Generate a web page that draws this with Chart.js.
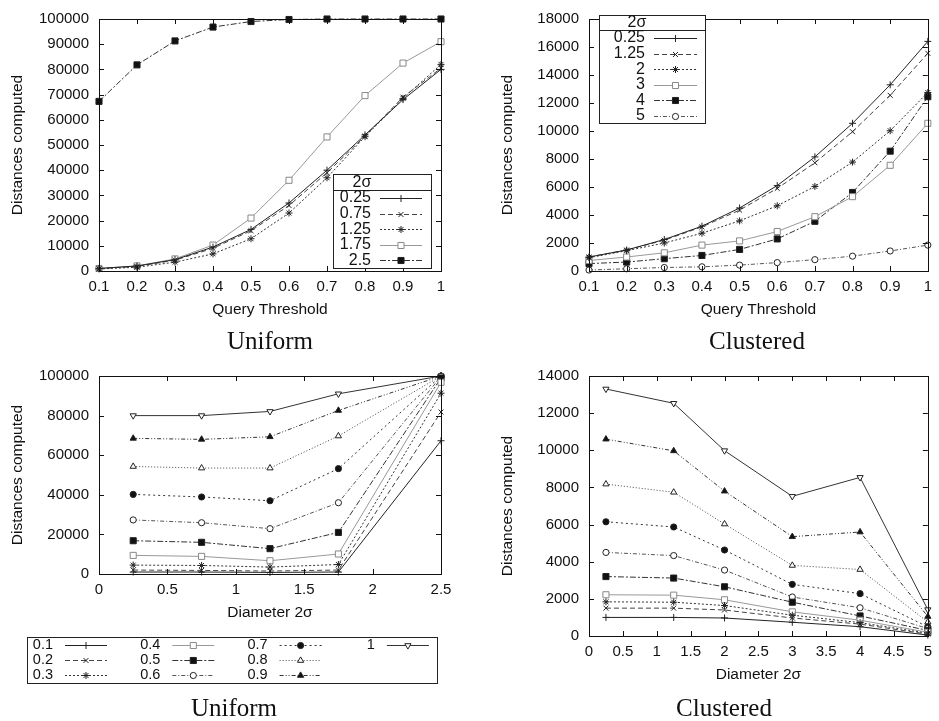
<!DOCTYPE html>
<html>
<head>
<meta charset="utf-8">
<script src="https://cdn.jsdelivr.net/npm/chart.js@4.4.0/dist/chart.umd.min.js"></script>
<style>
  body { margin: 0; background: #fff; }
  #page { position: relative; width: 939px; height: 721px; overflow: hidden; }
  .box { position: absolute; }
  .cap { position: absolute; width: 300px; text-align: center; font: 25px "Liberation Serif", "Times New Roman", serif; line-height: 30px; color: #111; }
</style>
</head>
<body>
<div id="page">
  <div class="box" style="left:0;top:0"><canvas id="uniThr" width="470" height="325"></canvas></div>
  <div class="box" style="left:470px;top:0"><canvas id="cluThr" width="469" height="325"></canvas></div>
  <div class="box" style="left:0;top:345px"><canvas id="uniDia" width="470" height="376"></canvas></div>
  <div class="box" style="left:470px;top:345px"><canvas id="cluDia" width="469" height="376"></canvas></div>
  <div class="cap" style="left:120px;top:326px">Uniform</div>
  <div class="cap" style="left:607px;top:326px">Clustered</div>
  <div class="cap" style="left:84px;top:693px">Uniform</div>
  <div class="cap" style="left:574px;top:693px">Clustered</div>
</div>
<script>
// ---- data ----
const thresholds = [0.1, 0.2, 0.3, 0.4, 0.5, 0.6, 0.7, 0.8, 0.9, 1];

// uniform, by query threshold (one list per diameter 2σ)
const uniDiamLabels = ["0.25", "0.75", "1.25", "1.75", "2.5"];
const uni025 = [1000, 2000, 4500, 9500, 16500, 27000, 40000, 54000, 68000, 80000];
const uni075 = [1000, 1800, 4300, 9000, 16000, 26000, 39000, 53500, 69000, 80500];
const uni125 = [800, 1500, 3500, 6800, 12800, 23000, 37000, 53300, 68500, 82000];
const uni175 = [1000, 2000, 4800, 10300, 21000, 36000, 53200, 69600, 82500, 91000];
const uni250 = [67300, 81800, 91300, 96800, 99000, 99800, 100000, 100000, 100000, 100000];

// clustered, by query threshold
const cluDiamLabels = ["0.25", "1.25", "2", "3", "4", "5"];
const clu025 = [1000, 1500, 2250, 3200, 4500, 6100, 8150, 10550, 13300, 16400];
const clu125 = [1000, 1500, 2200, 3150, 4350, 5900, 7730, 9950, 12550, 15550];
const clu2 = [950, 1450, 2000, 2700, 3580, 4660, 6040, 7780, 10020, 12750];
const clu3 = [750, 1000, 1300, 1850, 2150, 2820, 3880, 5310, 7550, 10550];
const clu4 = [530, 640, 880, 1110, 1540, 2290, 3550, 5610, 8560, 12450];
const clu5 = [70, 160, 250, 300, 420, 600, 810, 1060, 1430, 1850];

// uniform, by diameter (one list per query threshold)
const uniDiams = [0.25, 0.75, 1.25, 1.75, 2.5];
const thrLabels = ["0.1", "0.2", "0.3", "0.4", "0.5", "0.6", "0.7", "0.8", "0.9", "1"];
const ud01 = [1000, 1000, 800, 1000, 67300];
const ud02 = [2000, 1800, 1500, 2000, 81800];
const ud03 = [4500, 4300, 3500, 4800, 91300];
const ud04 = [9400, 8900, 6700, 10100, 96800];
const ud05 = [16800, 16000, 12800, 21000, 99000];
const ud06 = [27300, 25900, 22900, 36000, 99800];
const ud07 = [40200, 38900, 37000, 53200, 100000];
const ud08 = [54300, 53500, 53500, 69700, 100000];
const ud09 = [68500, 68000, 69300, 82600, 100000];
const ud10 = [80000, 80000, 82100, 91000, 100000];

// clustered, by diameter
const cluDiams = [0.25, 1.25, 2, 3, 4, 5];
const cd01 = [1000, 1000, 970, 740, 500, 50];
const cd02 = [1500, 1500, 1400, 970, 640, 100];
const cd03 = [1840, 1820, 1640, 1120, 720, 150];
const cd04 = [2220, 2200, 1950, 1300, 850, 200];
const cd05 = [3200, 3120, 2650, 1820, 1080, 300];
const cd06 = [4500, 4330, 3550, 2100, 1520, 400];
const cd07 = [6150, 5870, 4630, 2780, 2280, 490];
const cd08 = [8180, 7740, 6030, 3800, 3580, 750];
const cd09 = [10600, 9970, 7800, 5350, 5600, 1050];
const cd10 = [13300, 12530, 9980, 7520, 8540, 1420];

// ---- gnuplot-like line types ----
const lineTypes = [
  { pointStyle: "cross", radius: 3.5, dash: [], color: "#222", fill: "#222" },
  { pointStyle: "crossRot", radius: 3.5, dash: [5, 3], color: "#444", fill: "#444" },
  { pointStyle: "star", radius: 3.5, dash: [2, 2], color: "#333", fill: "#333" },
  { pointStyle: "rect", radius: 4.3, dash: [], color: "#999", fill: "#fff" },
  { pointStyle: "rect", radius: 4.3, dash: [6, 2, 2, 2], color: "#333", fill: "#111" },
  { pointStyle: "circle", radius: 3.1, dash: [4, 2, 1, 2], color: "#555", fill: "#fff" },
  { pointStyle: "circle", radius: 3.1, dash: [2, 3], color: "#333", fill: "#111" },
  { pointStyle: "triangle", radius: 3.6, dash: [1, 2], color: "#444", fill: "#fff" },
  { pointStyle: "triangle", radius: 3.6, dash: [4, 2, 1, 2, 1, 2], color: "#333", fill: "#111" },
  { pointStyle: "triangle", radius: 3.6, rotation: 180, dash: [], color: "#333", fill: "#fff" },
];

const FONT = "'Liberation Sans', Arial, sans-serif";
Chart.defaults.font.family = FONT;
Chart.defaults.color = "#111";

function series(label, xs, ys, lt) {
  return {
    label: label,
    data: xs.map((x, i) => ({ x: x, y: ys[i] })),
    borderColor: lt.color,
    borderWidth: 1,
    borderDash: lt.dash,
    pointStyle: lt.pointStyle,
    pointRadius: lt.radius,
    pointRotation: lt.rotation || 0,
    pointBackgroundColor: lt.fill,
    pointBorderColor: lt.color === "#999" ? "#888" : "#222",
    pointBorderWidth: 1,
    tension: 0,
    clip: false,
  };
}

// frame with inward mirrored tics
const frameTics = {
  id: "frameTics",
  afterDatasetsDraw(chart) {
    const { ctx, chartArea: a, scales } = chart;
    const L = 5;
    ctx.save();
    ctx.strokeStyle = "#111";
    ctx.lineWidth = 1;
    ctx.setLineDash([]);
    ctx.strokeRect(Math.round(a.left) + 0.5, Math.round(a.top) + 0.5,
      Math.round(a.right - a.left), Math.round(a.bottom - a.top));
    ctx.beginPath();
    scales.x.ticks.forEach(t => {
      const px = Math.round(scales.x.getPixelForValue(t.value)) + 0.5;
      ctx.moveTo(px, a.bottom); ctx.lineTo(px, a.bottom - L);
      ctx.moveTo(px, a.top); ctx.lineTo(px, a.top + L);
    });
    scales.y.ticks.forEach(t => {
      const py = Math.round(scales.y.getPixelForValue(t.value)) + 0.5;
      ctx.moveTo(a.left, py); ctx.lineTo(a.left + L, py);
      ctx.moveTo(a.right, py); ctx.lineTo(a.right - L, py);
    });
    ctx.stroke();
    ctx.restore();
  }
};

// gnuplot-like key box
const keyBox = {
  id: "keyBox",
  afterDraw(chart, args, o) {
    if (!o.box) return;
    const ctx = chart.ctx;
    ctx.save();
    ctx.strokeStyle = "#222";
    ctx.lineWidth = 1;
    ctx.fillStyle = "#fff";
    ctx.fillRect(o.box[0], o.box[1], o.box[2], o.box[3]);
    ctx.strokeRect(o.box[0] + 0.5, o.box[1] + 0.5, o.box[2], o.box[3]);
    ctx.fillStyle = "#111";
    ctx.textBaseline = "middle";
    if (o.title) {
      ctx.beginPath();
      ctx.moveTo(o.box[0], o.sep + 0.5);
      ctx.lineTo(o.box[0] + o.box[2], o.sep + 0.5);
      ctx.stroke();
      ctx.font = o.fontSize + "px " + FONT;
      ctx.textAlign = "center";
      ctx.fillText(o.title, o.titleX, o.titleY);
    }
    chart.data.datasets.forEach((ds, i) => {
      const col = Math.floor(i / o.rows), row = i % o.rows;
      const y = o.y0 + row * o.dy;
      const off = col * (o.dx || 0);
      ctx.fillStyle = "#111";
      ctx.font = o.fontSize + "px " + FONT;
      ctx.textAlign = "right";
      ctx.fillText(ds.label, o.labelRight + off, y);
      ctx.strokeStyle = ds.borderColor;
      ctx.setLineDash(ds.borderDash);
      ctx.beginPath();
      ctx.moveTo(o.s0 + off, Math.round(y) + 0.5);
      ctx.lineTo(o.s1 + off, Math.round(y) + 0.5);
      ctx.stroke();
      ctx.setLineDash([]);
      ctx.fillStyle = ds.pointBackgroundColor;
      ctx.strokeStyle = ds.pointBorderColor;
      Chart.helpers.drawPoint(ctx, {
        pointStyle: ds.pointStyle, rotation: ds.pointRotation,
        radius: ds.pointRadius, borderWidth: 1
      }, (o.s0 + o.s1) / 2 + off, Math.round(y) + 0.5);
    });
    ctx.restore();
  }
};

function makeChart(id, datasets, cfg) {
  const ctx = document.getElementById(id).getContext("2d");
  return new Chart(ctx, {
    type: "line",
    data: { datasets: datasets },
    plugins: [frameTics, keyBox],
    options: {
      responsive: false,
      animation: false,
      devicePixelRatio: 1,
      layout: { padding: cfg.padding },
      plugins: { legend: { display: false }, tooltip: { enabled: false }, keyBox: cfg.key },
      scales: {
        x: {
          type: "linear",
          min: cfg.xMin, max: cfg.xMax,
          afterFit: s => { s.height = 50; },
          grid: { display: false, drawTicks: false },
          border: { display: false },
          ticks: {
            stepSize: cfg.xStep, padding: 7, autoSkip: false, maxRotation: 0,
            font: { size: 15 }, color: "#111",
            callback: v => String(Number(v.toFixed(2)))
          },
          title: { display: true, text: cfg.xTitle, font: { size: 15.5 }, color: "#111", padding: { top: 0, bottom: 2 } }
        },
        y: {
          min: 0, max: cfg.yMax,
          afterFit: s => { s.width = cfg.yWidth; },
          grid: { display: false, drawTicks: false },
          border: { display: false },
          ticks: {
            stepSize: cfg.yStep, padding: 10, autoSkip: false,
            font: { size: 15 }, color: "#111",
            callback: v => String(v)
          },
          title: { display: true, text: "Distances computed", font: { size: 15.5 }, color: "#111", padding: { top: cfg.yTitlePad, bottom: 0 } }
        }
      }
    }
  });
}

// top left: uniform, by threshold
makeChart("uniThr", [
  series(uniDiamLabels[0], thresholds, uni025, lineTypes[0]),
  series(uniDiamLabels[1], thresholds, uni075, lineTypes[1]),
  series(uniDiamLabels[2], thresholds, uni125, lineTypes[2]),
  series(uniDiamLabels[3], thresholds, uni175, lineTypes[3]),
  series(uniDiamLabels[4], thresholds, uni250, lineTypes[4]),
], {
  padding: { left: 0, top: 11, right: 29, bottom: 4 },
  xMin: 0.1, xMax: 1, xStep: 0.1, yMax: 100000, yStep: 10000,
  xTitle: "Query Threshold", yWidth: 99, yTitlePad: 8,
  key: { box: [333, 174, 98, 94], title: "2σ", sep: 190, titleX: 362, titleY: 183,
    fontSize: 16, rows: 5, y0: 198, dy: 15.6, labelRight: 371, s0: 380, s1: 422 }
});

// top right: clustered, by threshold
makeChart("cluThr", [
  series(cluDiamLabels[0], thresholds, clu025, lineTypes[0]),
  series(cluDiamLabels[1], thresholds, clu125, lineTypes[1]),
  series(cluDiamLabels[2], thresholds, clu2, lineTypes[2]),
  series(cluDiamLabels[3], thresholds, clu3, lineTypes[3]),
  series(cluDiamLabels[4], thresholds, clu4, lineTypes[4]),
  series(cluDiamLabels[5], thresholds, clu5, lineTypes[5]),
], {
  padding: { left: 0, top: 11, right: 7, bottom: 4 },
  xMin: 0.1, xMax: 1, xStep: 0.1, yMax: 18000, yStep: 2000,
  xTitle: "Query Threshold", yWidth: 119, yTitlePad: 28.5,
  key: { box: [129, 15, 106, 108], title: "2σ", sep: 30, titleX: 167, titleY: 23,
    fontSize: 16, rows: 6, y0: 38, dy: 15.6, labelRight: 175, s0: 184, s1: 227 }
});

// bottom left: uniform, by diameter
const udAll = [ud01, ud02, ud03, ud04, ud05, ud06, ud07, ud08, ud09, ud10];
makeChart("uniDia", udAll.map((ys, i) => series(thrLabels[i], uniDiams, ys, lineTypes[i])), {
  padding: { left: 0, top: 31, right: 29, bottom: 97 },
  xMin: 0, xMax: 2.5, xStep: 0.5, yMax: 100000, yStep: 20000,
  xTitle: "Diameter 2σ", yWidth: 99, yTitlePad: 8,
  key: { box: [27, 292, 410, 46], fontSize: 14.5, rows: 3, y0: 300, dy: 15,
    dx: 107.3, labelRight: 53, s0: 65, s1: 107 }
});

// bottom right: clustered, by diameter
const cdAll = [cd01, cd02, cd03, cd04, cd05, cd06, cd07, cd08, cd09, cd10];
makeChart("cluDia", cdAll.map((ys, i) => series(thrLabels[i], cluDiams, ys, lineTypes[i])), {
  padding: { left: 0, top: 31, right: 7, bottom: 35 },
  xMin: 0, xMax: 5, xStep: 0.5, yMax: 14000, yStep: 2000,
  xTitle: "Diameter 2σ", yWidth: 119, yTitlePad: 28.5,
  key: {}
});
</script>
</body>
</html>
